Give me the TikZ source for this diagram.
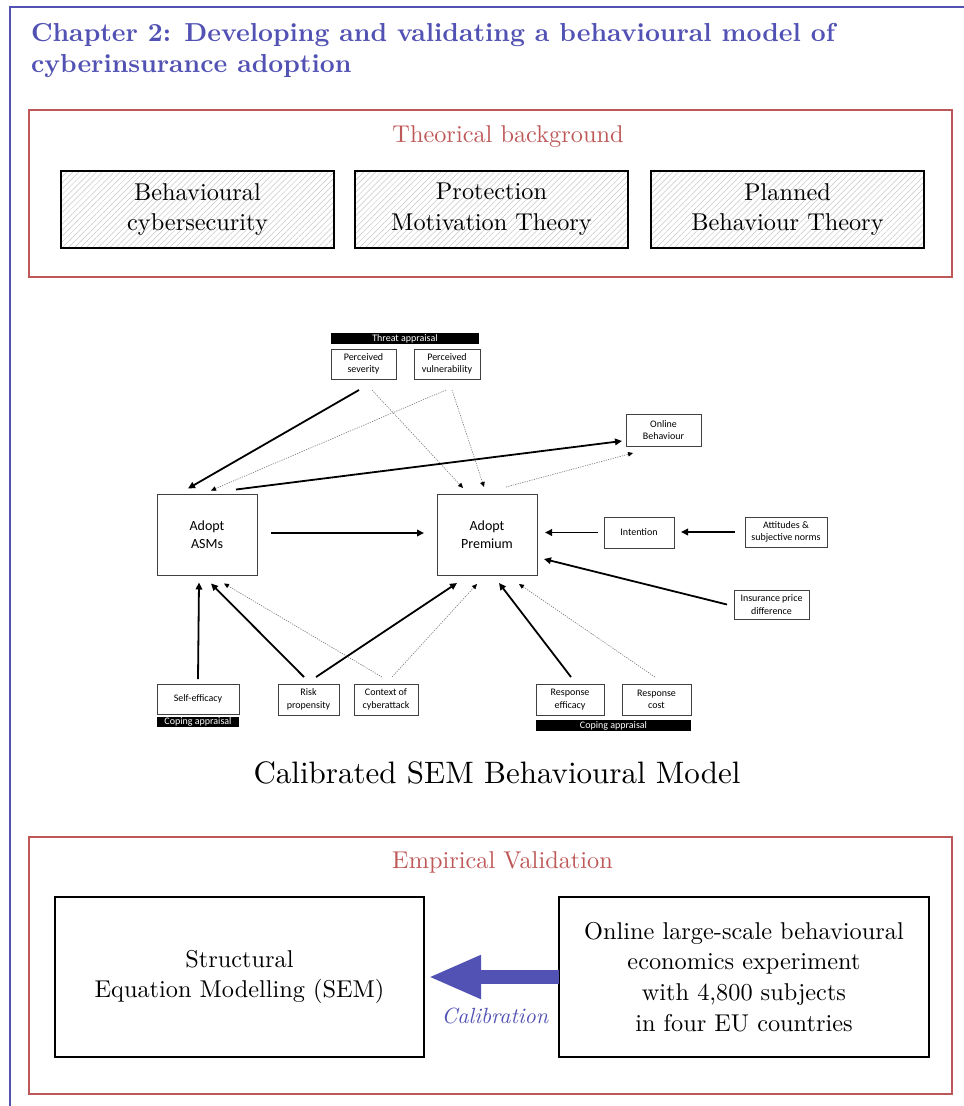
\documentclass[tikz,border=0pt]{standalone}
\usepackage{fontspec}
\setmainfont{lmroman10}[Extension=.otf, UprightFont=*-regular, BoldFont=*-bold,
  ItalicFont=*-italic, BoldItalicFont=*-bolditalic]
\newfontfamily\diagfont{Carlito}
\usetikzlibrary{patterns.meta,shadows,arrows.meta}

\definecolor{chapblue}{RGB}{82,82,180}
\definecolor{framered}{RGB}{190,88,88}

\tikzset{
  every node/.style={inner sep=0pt, outer sep=0pt},
  bigtext/.style={font=\fontsize{24.3}{30.8}\selectfont, align=center},
  redframe/.style={draw=framered, line width=1.4pt},
  redlabel/.style={text=framered, font=\fontsize{24.3}{30}\selectfont},
  shadowbox/.style={draw=black, line width=1.1pt,
    drop shadow={shadow xshift=1.2pt, shadow yshift=-1.2pt, fill=black!70, opacity=1},
    preaction={fill=white}},
  hatchbox/.style={shadowbox, bigtext, pattern={Lines[angle=45, distance=4.2pt, line width=0.5pt]},
    pattern color=black!22, minimum width=273pt, minimum height=77pt},
  plainbox/.style={shadowbox, bigtext, minimum width=370pt, minimum height=160pt},
  % SEM model
  semmain/.style={draw=black!75, line width=0.8pt, align=center,
    font=\diagfont\fontsize{14}{18}\selectfont, minimum width=100pt, minimum height=81pt},
  semsmall/.style={draw=black!75, line width=0.7pt, align=center,
    font=\diagfont\fontsize{10}{12.5}\selectfont, minimum height=30pt},
  sembar/.style={fill=black, text=white, font=\diagfont\fontsize{10}{11}\selectfont},
  solidarr/.style={line width=1.8pt, -{Triangle[length=7pt,width=6.5pt]}},
  dotarr/.style={draw=black!55, line width=0.6pt, dash pattern=on 1.2pt off 1.2pt,
    -{Triangle[length=5pt,width=4.5pt,color=black]}},
  calarr/.style={draw=chapblue, line width=14pt, -{Triangle[length=53pt,width=40pt]}},
}

\begin{document}
\begin{tikzpicture}[x=1pt,y=-1pt]
\useasboundingbox (0,0) rectangle (964,1106);

% outer chapter frame (top and left rules)
\draw[chapblue, line width=1.4pt] (964,7) -- (10,7) -- (10,1106);

% chapter title
\node[anchor=base west, text=chapblue, font=\fontsize{26}{31}\selectfont\bfseries] (ti1) at (31,41)
  {Chapter 2: Developing and validating a behavioural model of};
\node[anchor=base west, text=chapblue, font=\fontsize{26}{31}\selectfont\bfseries] (ti2) at (31,72)
  {cyberinsurance adoption};

% theoretical background block
\node[redframe, minimum width=923pt, minimum height=167pt] (theo) at (490.5,193.5) {};
\node[redlabel, anchor=base] (theolbl) at (508,142) {Theorical background};
\node[hatchbox] (bc)  at (197.5,209.5) {Behavioural\\cybersecurity};
\node[hatchbox] (pmt) at (491.5,209.5) {Protection\\Motivation Theory};
\node[hatchbox] (pbt) at (787.5,209.5) {Planned\\Behaviour Theory};

% ---------------- SEM behavioural model ----------------
\node[sembar, minimum width=148pt, minimum height=11pt] (thr) at (405,338.5) {Threat appraisal};
\node[semsmall, minimum width=65pt] (sev) at (363.5,364) {Perceived\\severity};
\node[semsmall, minimum width=66pt] (vul) at (447,364) {Perceived\\vulnerability};
\node[semsmall, minimum width=75pt, minimum height=32pt] (onl) at (663.5,430) {Online\\Behaviour};

\node[semmain] (asm) at (207,535) {Adopt\\ASMs};
\node[semmain] (pre) at (487,534.5) {Adopt\\Premium};

\node[semsmall, minimum width=70pt, minimum height=31pt] (int) at (639,532.5) {Intention};
\node[semsmall, minimum width=82pt] (att) at (786,532) {Attitudes \&\\subjective norms};
\node[semsmall, minimum width=75pt, minimum height=29pt] (ins) at (771.5,604.5) {Insurance price\\difference};

\node[semsmall, minimum width=82pt] (self) at (198,699) {Self-efficacy};
\node[sembar, minimum width=82pt, minimum height=10pt] (cop1) at (198,722) {Coping appraisal};
\node[semsmall, minimum width=61pt, minimum height=31pt] (risk) at (308.5,699.5) {Risk\\propensity};
\node[semsmall, minimum width=64pt, minimum height=31pt] (ctx) at (386,699.5) {Context of\\cyberattack};
\node[semsmall, minimum width=68pt, minimum height=31pt] (ref) at (570,699.5) {Response\\efficacy};
\node[semsmall, minimum width=69pt, minimum height=31pt] (rco) at (656.5,699.5) {Response\\cost};
\node[sembar, minimum width=155pt, minimum height=11pt] (cop2) at (613.5,725.5) {Coping appraisal};

% threat appraisal paths
\draw[solidarr] ([xshift=-4.5pt,yshift=-11pt]sev.south) -- ([xshift=-19pt,yshift=6pt]asm.north);
\draw[dotarr]   ([xshift=8.5pt,yshift=-11pt]sev.south) -- ([xshift=-24pt,yshift=6pt]pre.north);
\draw[dotarr]   ([xshift=-1pt,yshift=-11pt]vul.south) -- ([xshift=4pt,yshift=4pt]asm.north);
\draw[dotarr]   ([xshift=5pt,yshift=-11pt]vul.south) -- ([xshift=-3pt,yshift=7pt]pre.north);

% paths to online behaviour
\draw[solidarr] ([xshift=29pt,yshift=5pt]asm.north) -- ([xshift=-4pt,yshift=-11pt]onl.west);
\draw[dotarr]   ([xshift=19pt,yshift=7pt]pre.north) -- ([xshift=-30.5pt,yshift=-7pt]onl.south);

% horizontal paths
\draw[solidarr, shorten <=14pt, shorten >=13pt] ([yshift=2pt]asm.east) -- ([yshift=2pt]asm.east -| pre.west);
\draw[solidarr, shorten <=6pt, shorten >=8pt] (int.west) -- (int.west -| pre.east);
\draw[solidarr, shorten <=10pt, shorten >=7pt] (att.west) -- (att.west -| int.east);
\draw[solidarr] ([xshift=-7pt]ins.west) -- ([xshift=7pt,yshift=-24.5pt]pre.east);

% coping appraisal and context paths
\draw[solidarr] ([yshift=5pt]self.north) -- ([xshift=-8pt,yshift=-7pt]asm.south);
\draw[solidarr] ([xshift=-4.5pt,yshift=7pt]risk.north) -- ([xshift=4pt,yshift=-8pt]asm.south);
\draw[dotarr]   ([xshift=-4pt,yshift=7pt]ctx.north) -- ([xshift=17pt,yshift=-8pt]asm.south);
\draw[solidarr] ([xshift=7.5pt,yshift=7pt]risk.north) -- ([xshift=-30pt,yshift=-8pt]pre.south);
\draw[dotarr]   ([xshift=6pt,yshift=7pt]ctx.north) -- ([xshift=-10pt,yshift=-9pt]pre.south);
\draw[solidarr] ([xshift=1pt,yshift=7pt]ref.north) -- ([xshift=12pt,yshift=-8pt]pre.south);
\draw[dotarr]   ([xshift=-1.5pt,yshift=7pt]rco.north) -- ([xshift=32pt,yshift=-9pt]pre.south);

\node[anchor=base, font=\fontsize{31}{36}\selectfont] (semlbl) at (497,783) {Calibrated SEM Behavioural Model};

% empirical validation block
\node[redframe, minimum width=923pt, minimum height=257pt] (emp) at (490.5,965.5) {};
\node[redlabel, anchor=base] (emplbl) at (502.5,868) {Empirical Validation};
\node[plainbox, minimum width=369pt] (sem) at (239.5,977) {Structural\\Equation Modelling (SEM)};
\node[plainbox] (exp) at (744,977) {Online large-scale behavioural\\economics experiment\\with 4,800 subjects\\in four EU countries};
\draw[calarr] (exp.west) -- ([xshift=4pt]sem.east);
\node[anchor=base, text=chapblue, font=\fontsize{22}{26}\selectfont\itshape] (cal) at (495,1023) {Calibration};

\end{tikzpicture}
\end{document}
